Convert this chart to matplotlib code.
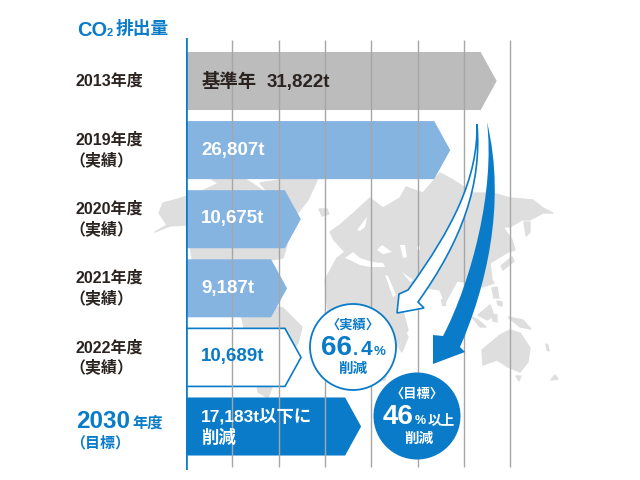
import matplotlib
matplotlib.use("Agg")
import matplotlib.pyplot as plt
from matplotlib.patches import Circle, Polygon, PathPatch
from matplotlib.path import Path
import numpy as np

FONT = ['Liberation Sans', 'Noto Sans CJK JP', 'DejaVu Sans']
plt.rcParams['font.family'] = FONT
plt.rcParams['font.weight'] = 'bold'

BLUE = '#0a7bc8'
LIGHT = '#86b4e1'
GRAY = '#bcbcbc'
LAND = '#dedede'
DARK = '#2a2320'

years = ['2013年度', '2019年度', '2020年度', '2021年度', '2022年度', '2030年度']
notes = ['', '（実績）', '（実績）', '（実績）', '（実績）', '（目標）']
values = [31822, 26807, 10675, 9187, 10689, 17183]
bar_labels = ['31,822t', '26,807t', '10,675t', '9,187t', '10,689t', '17,183t以下に']

grid_ticks = [5000, 10000, 15000, 20000, 25000, 30000, 35000]

# px per tonne, the body of each bar ends on its value and the tip sticks out
PX_PER_T = 46.3 / 5000
TIP = 16 / PX_PER_T
HALF = 0.42

# rough world map outlines, picture pixels
land = [
    [(155, 232), (167, 225), (159, 213), (163, 203), (178, 199), (200, 192), (217, 184), (250, 182), (262, 190),
     (275, 205), (283, 225), (287, 245), (283, 258), (258, 262), (245, 285), (235, 305), (245, 318), (196, 300),
     (192, 258), (186, 225), (170, 226)],
    [(260, 183), (293, 178), (318, 178), (308, 200), (297, 214), (284, 205), (270, 195)],
    [(210, 178), (240, 176), (250, 182), (225, 188)],
    [(319, 209), (327, 209), (329, 214), (322, 216)],
    [(240, 310), (262, 304), (283, 308), (302, 327), (298, 343), (285, 362), (272, 387), (268, 398), (258, 392),
     (255, 370), (248, 345)],
    [(325, 280), (337, 258), (345, 252), (334, 240), (330, 232), (340, 225), (357, 210), (370, 198), (383, 208),
     (400, 198), (406, 187), (423, 193), (440, 173), (453, 180), (473, 193), (493, 193), (510, 198), (533, 200),
     (543, 208), (553, 213), (543, 213), (530, 220), (522, 220), (510, 227), (503, 227), (512, 240), (515, 250),
     (508, 252), (500, 257), (490, 263), (492, 280), (494, 283), (483, 287), (473, 283), (457, 281), (445, 303),
     (440, 290), (428, 288), (420, 297), (404, 309), (400, 300), (408, 330), (392, 355), (385, 380), (365, 385),
     (355, 350), (345, 325), (328, 312)],
    [(524, 222), (530, 222), (530, 232), (526, 236)],
    [(512, 257), (514, 261), (503, 270), (501, 266)],
    [(406, 333), (408, 337), (402, 352), (399, 348)],
    [(441, 299), (445, 299), (445, 305), (442, 305)],
    [(492, 288), (497, 287), (499, 298), (494, 298)],
    [(497, 301), (502, 302), (502, 306), (498, 305)],
    [(478, 315), (490, 305), (494, 316), (487, 320)],
    [(472, 317), (478, 320), (486, 327), (480, 327)],
    [(492, 314), (497, 315), (497, 322), (493, 321)],
    [(482, 350), (500, 335), (510, 330), (520, 333), (530, 348), (528, 362), (520, 372), (508, 367), (497, 360), (483, 365)],
    [(508, 317), (523, 320), (531, 329), (520, 327)],
    [(516, 376), (521, 376), (519, 381)],
    [(546, 344), (548, 345), (549, 351), (547, 350)],
    [(551, 380), (555, 375), (558, 379)],
]
sea = [
    [(345, 258), (353, 252), (360, 258), (372, 262), (383, 263), (385, 267), (370, 267), (360, 265), (350, 260)],
    [(377, 250), (382, 245), (392, 252), (383, 254)],
    [(400, 245), (405, 245), (407, 257), (403, 258)],
    [(357, 230), (367, 217), (365, 227), (360, 231)],
    [(385, 275), (388, 276), (396, 295), (393, 297)],
    [(402, 272), (413, 280), (410, 282)],
    [(417, 246), (420, 246), (420, 250), (417, 250)],
]

fig = plt.figure(figsize=(6.4, 4.8), dpi=100)
full = [0, 0, 1, 1]

# background map
ax_map = fig.add_axes(full, zorder=0)
ax_map.set_xlim(0, 640)
ax_map.set_ylim(480, 0)
ax_map.axis('off')
for shape in land:
    ax_map.add_patch(Polygon(shape, closed=True, fc=LAND, ec=LAND, lw=1.0, joinstyle='round'))
for shape in sea:
    ax_map.add_patch(Polygon(shape, closed=True, fc='white', ec='none'))

# bars, on a real value axis
ax = fig.add_axes([186 / 640, 10 / 480, 454 / 640, 432 / 480], zorder=1)
ax.patch.set_visible(False)
ax.set_xlim(0, 454 / PX_PER_T)
row_px = 69.1
ax.set_ylim((470 - 81) / row_px, (38 - 81) / row_px)
ax.axis('off')
ax.vlines(grid_ticks, (467 - 81) / row_px, (40 - 81) / row_px, color='#a6a6a6', lw=1.0)

fills = [GRAY, LIGHT, LIGHT, LIGHT, 'white', BLUE]
edges = ['none', 'none', 'none', 'none', BLUE, 'none']
for i, v in enumerate(values):
    xs = [0, v, v + TIP, v, 0]
    ys = [i - HALF, i - HALF, i, i + HALF, i + HALF]
    ax.fill(xs, ys, fc=fills[i], ec=edges[i], lw=1.2, joinstyle='miter')
ax.axvline(0, ymin=0, ymax=1, color=BLUE, lw=2.6)

# everything on top, again in picture pixels
top = fig.add_axes(full, zorder=2)
top.set_xlim(0, 640)
top.set_ylim(480, 0)
top.axis('off')


def arrow(left, right, head, **kw):
    verts = [left[0], left[1], left[2], left[3]] + head + [right[3], right[2], right[1], right[0], left[0]]
    codes = [Path.MOVETO, Path.CURVE4, Path.CURVE4, Path.CURVE4] + [Path.LINETO] * len(head) + \
            [Path.LINETO, Path.CURVE4, Path.CURVE4, Path.CURVE4, Path.CLOSEPOLY]
    top.add_patch(PathPatch(Path(verts, codes), **kw))


arrow([(477, 124), (478, 178), (453, 228), (408, 290)],
      [(477, 124), (482, 185), (462, 240), (418, 302)],
      [(399, 294), (397, 313), (424, 308)], fc='white', ec=BLUE, lw=1.2, joinstyle='miter')
arrow([(487, 122), (495, 190), (472, 280), (443, 336)],
      [(487, 122), (507, 205), (485, 290), (460, 347)],
      [(433, 335), (433, 364), (465, 352)], fc=BLUE, ec='none')

top.add_patch(Circle((353, 347), 43, fc='white', ec=BLUE, lw=1.3))
top.add_patch(Circle((417, 416), 43.5, fc=BLUE, ec='none'))


def label(x, y, s, size, color=DARK, ha='left', va='center'):
    top.text(x, y, s, fontsize=size, color=color, ha=ha, va=va, fontweight='bold', family=FONT)


# header
label(77, 30, 'CO', 14.4, BLUE)
label(107, 33, '2', 8, BLUE)
label(116, 30, '排出量', 12.8, BLUE)

# year labels
for i in range(5):
    y = 81 + row_px * i
    if notes[i]:
        label(76, y - 10, years[i], 11.5)
        label(69, y + 10, notes[i], 11.5)
    else:
        label(76, y, years[i], 11.5)
label(76, 421, '2030', 17.5, BLUE)
label(132, 423, '年度', 11, BLUE)
label(70, 443, notes[5], 10.8, BLUE)

# bar value labels
label(202, 82, '基準年', 13.2)
label(267, 82, bar_labels[0], 13.5)
label(201, 150, bar_labels[1], 13.5, 'white')
label(201, 219, bar_labels[2], 13.5, 'white')
label(201, 288, bar_labels[3], 13.5, 'white')
label(201, 357, bar_labels[4], 13.5, BLUE)
label(201, 416, bar_labels[5], 12.5, 'white')
label(201, 437, '削減', 12.5, 'white')

# badges
label(353, 325, '〈実績〉', 9.5, BLUE, ha='center')
label(321, 355, '66', 20, BLUE, va='baseline')
label(353, 355, '.', 13, BLUE, va='baseline')
label(361, 355, '4', 15, BLUE, va='baseline')
label(374, 355, '%', 9.5, BLUE, va='baseline')
label(353, 369, '削減', 10.5, BLUE, ha='center')

label(417, 395, '〈目標〉', 9.5, 'white', ha='center')
label(383, 424, '46', 20, 'white', va='baseline')
label(415, 424, '%', 9, 'white', va='baseline')
label(428, 424, '以上', 9.8, 'white', va='baseline')
label(419, 439, '削減', 10.5, 'white', ha='center')

fig.savefig('out.png', dpi=100)
